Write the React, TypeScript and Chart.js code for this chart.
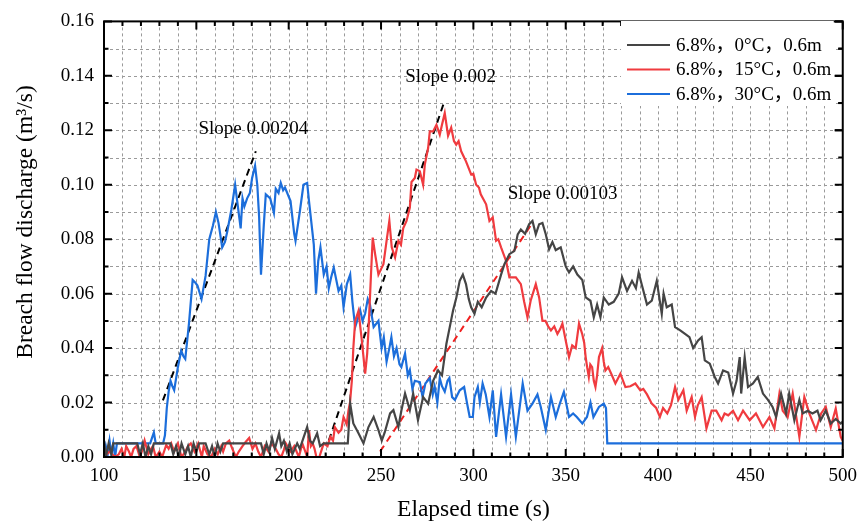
import React, { useEffect, useRef } from "react";
import { Chart, registerables } from "chart.js";

Chart.register(...registerables);

// ---------- data ----------
const seriesLabels = ["6.8%，0°C，0.6m", "6.8%，15°C，0.6m", "6.8%，30°C，0.6m"];

const xTickValues = [100, 150, 200, 250, 300, 350, 400, 450, 500];
const yTickValues = [0, 0.02, 0.04, 0.06, 0.08, 0.1, 0.12, 0.14, 0.16];

// 0 °C (dark gray)
const t0 = [100, 101, 102.5, 104, 105, 110, 118, 119.5, 121, 122.5, 124, 125.5, 127, 133, 136, 137.5, 139, 140.5, 142, 144, 145.5, 147, 148.5, 150, 151.5, 155, 157, 158.5, 160, 161.5, 163, 164.5, 170, 175, 180, 185, 186.5, 188, 189.5, 191, 192.5, 194.8, 196, 197.4, 199, 200.5, 202, 204.6, 206, 208, 210, 211.5, 213, 215.4, 217, 219, 232, 233.3, 235, 237.8, 240.5, 243.2, 246, 248.6, 250.4, 252, 254.9, 256.7, 259.4, 261, 263, 265.6, 267.4, 270, 272.8, 275.5, 278.2, 280.9, 283, 285.4, 287.2, 289, 290.8, 292.6, 294.3, 296, 297.5, 298.8, 300.6, 302.4, 304.5, 306.9, 309.6, 312, 315, 316.8, 319.5, 322.2, 324, 325.7, 328, 330.2, 332, 333.8, 335.6, 337.4, 339.2, 341, 342.8, 344.6, 347.3, 350, 351.8, 354, 356.3, 359, 360.8, 363.4, 365.2, 367, 368.8, 370.6, 373.3, 376, 378.7, 380.5, 383.2, 385.9, 388, 389.5, 391.3, 394, 396.6, 399.3, 402, 403, 404.7, 407.4, 409.2, 412, 414.6, 417, 419, 421.7, 423.6, 425.3, 428, 430.7, 432.5, 435.2, 438, 440.6, 442.5, 444.2, 445, 446.9, 448.7, 451.4, 454, 456.8, 459.5, 462, 463.9, 466.6, 469.3, 471, 473.8, 476.5, 478.3, 481, 483.6, 486.3, 488, 490.8, 493.5, 496.2, 498.9, 500];
const q0 = [0.006, 0, 0.005, 0.001, 0.005, 0.005, 0.005, 0.001, 0.005, 0, 0.004, 0.001, 0.005, 0.005, 0.005, 0.001, 0.004, 0, 0.005, 0.001, 0.004, 0, 0.005, 0.002, 0.005, 0.005, 0.001, 0.004, 0, 0.005, 0.002, 0.005, 0.005, 0.005, 0.005, 0.005, 0.001, 0.005, 0.002, 0.007, 0.003, 0.0087, 0.004, 0.006, 0.002, 0.005, 0.001, 0.005, 0.003, 0.007, 0.011, 0.006, 0.005, 0.0087, 0.004, 0.005, 0.005, 0.0196, 0.0123, 0.0087, 0.005, 0.011, 0.0147, 0.0099, 0.006, 0.009, 0.016, 0.0172, 0.011, 0.017, 0.0233, 0.0172, 0.0233, 0.0135, 0.022, 0.0196, 0.028, 0.0318, 0.03, 0.0416, 0.0477, 0.0538, 0.0586, 0.0647, 0.067, 0.0635, 0.058, 0.055, 0.0526, 0.057, 0.055, 0.0586, 0.061, 0.06, 0.067, 0.0708, 0.0745, 0.0757, 0.0818, 0.0836, 0.082, 0.0855, 0.0867, 0.0818, 0.0855, 0.086, 0.0818, 0.0763, 0.079, 0.076, 0.077, 0.07, 0.0678, 0.07, 0.067, 0.065, 0.0586, 0.0574, 0.0513, 0.056, 0.0513, 0.0586, 0.056, 0.057, 0.06, 0.066, 0.061, 0.0647, 0.062, 0.0678, 0.063, 0.056, 0.0574, 0.0647, 0.0526, 0.06, 0.055, 0.056, 0.0477, 0.0465, 0.0452, 0.044, 0.04, 0.0428, 0.044, 0.0355, 0.0343, 0.0294, 0.027, 0.0318, 0.031, 0.0233, 0.028, 0.0367, 0.0233, 0.0367, 0.0257, 0.027, 0.0294, 0.0233, 0.021, 0.0184, 0.0147, 0.0233, 0.016, 0.0233, 0.0135, 0.021, 0.016, 0.017, 0.016, 0.017, 0.0135, 0.017, 0.0123, 0.014, 0.0123, 0.013];

// 15 °C (red)
const t15 = [100, 103, 106, 108, 109.5, 111, 112, 113.5, 114.7, 116, 117.6, 119.4, 121, 122, 124, 125.5, 126.5, 128, 130, 131.5, 133.7, 135, 136.4, 138, 140, 142, 144, 145.5, 147, 149, 151, 153, 154, 156, 158, 160, 161.6, 163.5, 164.5, 166, 167.8, 169.5, 171.4, 173, 175, 176.8, 178.6, 180.4, 182, 183.5, 185, 187, 189, 190.6, 193, 194.5, 196, 197.4, 198.4, 201, 203, 205.5, 207.4, 209, 210, 211, 212, 213, 214, 215, 216.6, 218, 219, 221, 222.6, 224, 225, 227, 228.5, 229.7, 231.4, 232.4, 233.2, 234.2, 235, 236, 237.8, 239.6, 241.4, 242.5, 243.2, 244.5, 245.5, 246.8, 248.6, 250, 251.3, 253, 254.5, 255.8, 257.6, 259.4, 260.8, 262, 263.8, 265.6, 266.5, 268.3, 269.2, 271, 272.8, 273.7, 275.5, 276.4, 278.2, 280, 281.8, 283, 284.5, 286.3, 288, 289.5, 290.7, 292, 293.4, 295, 296, 297.5, 298.8, 300, 301.5, 303, 304, 306.9, 308.7, 310.5, 312.3, 313.5, 315, 317.7, 319.5, 321, 323, 325.7, 327.5, 329.3, 331, 333.8, 335.6, 337.4, 339, 340.5, 342, 343.8, 345.5, 347, 348.2, 350, 351.8, 353.5, 355.4, 357.2, 359, 360, 360.8, 361.6, 362.5, 363.3, 364.3, 365.2, 366.1, 367, 368, 369.7, 370.6, 371.5, 373, 375, 376.9, 379.6, 382.3, 385, 387.7, 390.4, 392, 394, 396.6, 399, 401, 402.7, 405, 407, 409.2, 411, 413.7, 415.5, 418.2, 420, 421.5, 423.6, 426.2, 429, 431.5, 434.4, 436, 438, 440.6, 443.3, 446, 449.6, 453, 456.8, 460.3, 463, 465.7, 467.5, 470.2, 472.9, 476.5, 479.2, 481.9, 485.5, 488.3, 490.8, 493.5, 496.2, 498.9, 500];
const q15 = [0, 0.002, 0, 0.001, 0.003, 0, 0.004, 0.002, 0, 0.003, 0.004, 0, 0.003, 0.006, 0.001, 0.003, 0.004, 0, 0.002, 0, 0.0044, 0.003, 0.005, 0.002, 0.005, 0, 0.002, 0.004, 0.005, 0.002, 0.005, 0, 0.004, 0.001, 0, 0.003, 0.001, 0.004, 0.002, 0.005, 0.006, 0.003, 0, 0.002, 0.004, 0.0056, 0.007, 0.003, 0.005, 0.002, 0, 0.004, 0.002, 0.005, 0.003, 0.001, 0, 0.0026, 0.005, 0.002, 0.004, 0, 0.005, 0.002, 0, 0.0099, 0.004, 0.005, 0.003, 0, 0, 0.003, 0.005, 0.004, 0.0074, 0.006, 0.011, 0.0089, 0.01, 0.0147, 0.012, 0.0172, 0.02, 0.028, 0.04, 0.05, 0.0537, 0.0428, 0.0306, 0.038, 0.0465, 0.066, 0.0806, 0.0745, 0.067, 0.069, 0.0708, 0.0794, 0.0867, 0.077, 0.0733, 0.0794, 0.078, 0.084, 0.0867, 0.0916, 0.101, 0.1025, 0.1056, 0.105, 0.1, 0.1074, 0.1135, 0.1196, 0.1196, 0.122, 0.1184, 0.122, 0.1263, 0.118, 0.121, 0.116, 0.1147, 0.116, 0.1123, 0.11, 0.1086, 0.106, 0.1038, 0.104, 0.1, 0.099, 0.0965, 0.0928, 0.0867, 0.088, 0.0794, 0.08, 0.077, 0.072, 0.066, 0.066, 0.066, 0.0635, 0.057, 0.0513, 0.0574, 0.0635, 0.0586, 0.05, 0.05, 0.048, 0.0465, 0.048, 0.0452, 0.047, 0.049, 0.0428, 0.0367, 0.041, 0.04, 0.049, 0.045, 0.042, 0.0367, 0.033, 0.0294, 0.034, 0.033, 0.028, 0.0257, 0.03, 0.0367, 0.04, 0.035, 0.0318, 0.033, 0.03, 0.027, 0.0306, 0.0257, 0.026, 0.027, 0.0245, 0.025, 0.023, 0.0196, 0.018, 0.0147, 0.018, 0.016, 0.019, 0.0257, 0.021, 0.0245, 0.017, 0.022, 0.0147, 0.019, 0.022, 0.0105, 0.017, 0.017, 0.0135, 0.016, 0.0153, 0.017, 0.0135, 0.017, 0.0135, 0.016, 0.011, 0.0147, 0.0105, 0.0233, 0.017, 0.0147, 0.0233, 0.0074, 0.022, 0.016, 0.0099, 0.016, 0.0184, 0.011, 0.0178, 0.0074, 0.006];

// 30 °C (blue)
const t30 = [100, 101, 102, 103, 104, 105, 106, 107, 110, 115, 120, 125, 126, 127, 128, 130, 132, 133, 134, 135, 136, 137, 138, 140, 141.8, 143, 144, 146, 148, 149.5, 150.6, 152.8, 155, 157, 159, 160.6, 162, 164, 165.5, 166.8, 169, 171, 172.5, 174, 175, 176, 177.5, 179, 180.2, 181.8, 183, 184, 185, 186.5, 187.6, 190, 192, 193, 194.5, 195.7, 197, 198, 201, 203, 203.7, 206, 208, 210, 211, 213.6, 214.8, 216, 217.2, 219, 220.5, 221.7, 223, 224.4, 227, 228.5, 229.7, 231.5, 233.3, 234.5, 236, 237.5, 238.7, 240, 241.4, 242.8, 244, 246, 248.6, 250.3, 251.5, 253, 254.5, 255.6, 257, 258.4, 260, 261, 263, 264.5, 265.6, 267, 268.3, 271, 272.5, 274, 276.4, 278, 279, 280.5, 281.8, 283, 284.5, 286, 287, 288.5, 290, 292.6, 295, 296.5, 298, 299.7, 300.6, 302.4, 303.5, 305, 306.7, 308.7, 310.5, 312.3, 315, 317.7, 320.4, 323, 326.7, 329.3, 332, 334.7, 336.5, 339.2, 342, 344.6, 347, 349, 351.8, 354, 356, 359, 361.5, 363.4, 365, 368, 370.6, 371.8, 372.5, 400, 450, 500];
const q30 = [0, 0.004, 0.001, 0.006, 0.001, 0.005, 0, 0.005, 0.005, 0.005, 0.005, 0.005, 0.007, 0.009, 0.005, 0.005, 0.005, 0.008, 0.018, 0.024, 0.028, 0.026, 0.0245, 0.033, 0.039, 0.037, 0.036, 0.049, 0.065, 0.064, 0.063, 0.058, 0.0665, 0.08, 0.085, 0.09, 0.086, 0.077, 0.079, 0.083, 0.091, 0.1, 0.092, 0.084, 0.095, 0.092, 0.095, 0.097, 0.1025, 0.107, 0.1, 0.088, 0.067, 0.085, 0.0965, 0.095, 0.0897, 0.0985, 0.097, 0.1007, 0.098, 0.099, 0.094, 0.082, 0.0794, 0.09, 0.1, 0.1007, 0.094, 0.078, 0.06, 0.072, 0.077, 0.067, 0.07, 0.062, 0.066, 0.0696, 0.061, 0.063, 0.055, 0.0635, 0.067, 0.057, 0.0477, 0.051, 0.054, 0.05, 0.0527, 0.058, 0.056, 0.0477, 0.05, 0.04, 0.044, 0.035, 0.04, 0.044, 0.037, 0.04, 0.034, 0.033, 0.038, 0.03, 0.032, 0.025, 0.028, 0.0275, 0.022, 0.027, 0.029, 0.023, 0.026, 0.02, 0.029, 0.026, 0.024, 0.028, 0.029, 0.022, 0.021, 0.0245, 0.0257, 0.02, 0.0147, 0.0147, 0.022, 0.0257, 0.02, 0.027, 0.023, 0.0147, 0.0245, 0.0074, 0.023, 0.0074, 0.023, 0.0074, 0.027, 0.017, 0.0196, 0.023, 0.0184, 0.0099, 0.022, 0.0147, 0.02, 0.0239, 0.0147, 0.016, 0.0147, 0.0123, 0.0147, 0.02, 0.0147, 0.0184, 0.0196, 0.018, 0.005, 0.005, 0.005, 0.005];

// fitted slope lines (time, discharge)
const fit30T = [131.9, 182.2];
const fit30Q = [0.0208, 0.1123];
const fit15T = [221.7, 284.5];
const fit15Q = [0.006, 0.131];
const fit0T = [249.5, 332];
const fit0Q = [0.002, 0.086];

// slope annotation texts and their anchor (time, discharge)
const slopeTexts = ["Slope 0.00204", "Slope 0.002", "Slope 0.00103"];
const slopeTextT = [151.1, 263.1, 318.6];
const slopeTextQ = [0.1203, 0.1395, 0.0966];

// ---------- styles ----------
const COLORS = ["#454545", "#f03b3f", "#1c6edb"];
const FONT = "'Liberation Serif', 'Noto Sans CJK SC', serif";

const toXY = (t: number[], q: number[]) => t.map((v, i) => ({ x: v, y: q[i] }));

const decorPlugin = {
  id: "decor",
  beforeDatasetsDraw(chart: any) {
    const { ctx, chartArea: a, scales } = chart;
    const x = scales.x;
    const y = scales.y;
    ctx.save();
    ctx.strokeStyle = "#9a9a9a";
    ctx.lineWidth = 1;
    ctx.setLineDash([3, 3]);
    for (let k = 1; k < 40; k++) {
      const px = Math.round(x.getPixelForValue(100 + k * 10)) + 0.5;
      ctx.beginPath();
      ctx.moveTo(px, a.top);
      ctx.lineTo(px, a.bottom);
      ctx.stroke();
    }
    for (let k = 1; k < 16; k++) {
      const py = Math.round(y.getPixelForValue(k * 0.01)) + 0.5;
      ctx.beginPath();
      ctx.moveTo(a.left, py);
      ctx.lineTo(a.right, py);
      ctx.stroke();
    }
    ctx.restore();
  },
  afterDatasetsDraw(chart: any) {
    const { ctx, chartArea: a, scales } = chart;
    const x = scales.x;
    const y = scales.y;
    ctx.save();
    ctx.setLineDash([]);
    ctx.strokeStyle = "#000";
    ctx.lineWidth = 2;
    // ticks (inward) on all sides
    for (let k = 0; k <= 40; k++) {
      const px = x.getPixelForValue(100 + k * 10);
      const len = k % 5 === 0 ? 8 : 4.5;
      ctx.beginPath();
      ctx.moveTo(px, a.bottom);
      ctx.lineTo(px, a.bottom - len);
      ctx.moveTo(px, a.top);
      ctx.lineTo(px, a.top + len);
      ctx.stroke();
    }
    for (let k = 0; k <= 16; k++) {
      const py = y.getPixelForValue(k * 0.01);
      const len = k % 2 === 0 ? 8 : 4.5;
      ctx.beginPath();
      ctx.moveTo(a.left, py);
      ctx.lineTo(a.left + len, py);
      ctx.moveTo(a.right, py);
      ctx.lineTo(a.right - len, py);
      ctx.stroke();
    }
    ctx.strokeRect(a.left, a.top, a.right - a.left, a.bottom - a.top);

    // slope annotations
    ctx.fillStyle = "#000";
    ctx.font = `19px ${FONT}`;
    ctx.textAlign = "left";
    ctx.textBaseline = "middle";
    slopeTexts.forEach((s, i) => {
      ctx.fillText(s, x.getPixelForValue(slopeTextT[i]), y.getPixelForValue(slopeTextQ[i]));
    });

    // legend
    const lx = 621;
    const ly = 21;
    ctx.fillStyle = "#fff";
    ctx.fillRect(lx, ly, a.right - lx - 9, 85);
    seriesLabels.forEach((lab, i) => {
      const yy = 45 + i * 24.5;
      ctx.strokeStyle = COLORS[i];
      ctx.lineWidth = 2.2;
      ctx.beginPath();
      ctx.moveTo(627, yy);
      ctx.lineTo(670, yy);
      ctx.stroke();
      ctx.fillStyle = "#000";
      ctx.font = `19px ${FONT}`;
      ctx.textAlign = "left";
      ctx.textBaseline = "middle";
      ctx.fillText(lab, 676, yy + 1);
    });
    // redraw right ticks over legend box
    ctx.strokeStyle = "#000";
    ctx.lineWidth = 2;
    for (let k = 12; k <= 16; k++) {
      const py = y.getPixelForValue(k * 0.01);
      const len = k % 2 === 0 ? 8 : 4.5;
      ctx.beginPath();
      ctx.moveTo(a.right, py);
      ctx.lineTo(a.right - len, py);
      ctx.stroke();
    }

    // axis titles
    ctx.fillStyle = "#000";
    ctx.font = `23.5px ${FONT}`;
    ctx.textAlign = "center";
    ctx.textBaseline = "middle";
    ctx.fillText("Elapsed time (s)", (a.left + a.right) / 2, 510);
    ctx.save();
    ctx.translate(26, 222);
    ctx.rotate(-Math.PI / 2);
    ctx.fillText("Breach flow discharge (m³/s)", 0, 0);
    ctx.restore();
    ctx.restore();
  },
};

export default function App() {
  const ref = useRef<HTMLCanvasElement | null>(null);

  useEffect(() => {
    if (!ref.current) return;
    const lineDs = (label: string, t: number[], q: number[], color: string, dash: number[] = [], w = 2.2) => ({
      label,
      data: toXY(t, q),
      borderColor: color,
      backgroundColor: color,
      borderWidth: w,
      borderDash: dash,
      pointRadius: 0,
      tension: 0,
      fill: false,
    });
    const chart = new Chart(ref.current, {
      type: "line",
      data: {
        datasets: [
          lineDs(seriesLabels[0], t0, q0, COLORS[0]),
          lineDs(seriesLabels[1], t15, q15, COLORS[1]),
          lineDs(seriesLabels[2], t30, q30, COLORS[2]),
          lineDs("fit30", fit30T, fit30Q, "#000", [7, 5], 2),
          lineDs("fit15", fit15T, fit15Q, "#000", [7, 5], 2),
          lineDs("fit0", fit0T, fit0Q, "#f02020", [7, 5], 2),
        ],
      },
      options: {
        responsive: false,
        animation: false,
        events: [],
        layout: { padding: { left: 0, right: 18, top: 19, bottom: 0 } },
        plugins: { legend: { display: false }, tooltip: { enabled: false }, title: { display: false } },
        scales: {
          x: {
            type: "linear",
            min: 100,
            max: 500,
            afterBuildTicks: (s: any) => {
              s.ticks = xTickValues.map((v) => ({ value: v }));
            },
            afterFit: (s: any) => {
              s.height = 66;
            },
            grid: { display: false, drawTicks: false },
            border: { display: false },
            ticks: {
              padding: 8,
              color: "#000",
              font: { family: FONT, size: 19 },
              maxRotation: 0,
              autoSkip: false,
              callback: (v: any) => String(v),
            },
          },
          y: {
            type: "linear",
            min: 0,
            max: 0.16,
            afterBuildTicks: (s: any) => {
              s.ticks = yTickValues.map((v) => ({ value: v }));
            },
            afterFit: (s: any) => {
              s.width = 104;
            },
            grid: { display: false, drawTicks: false },
            border: { display: false },
            ticks: {
              padding: 10,
              color: "#000",
              font: { family: FONT, size: 19 },
              autoSkip: false,
              callback: (v: any) => Number(v).toFixed(2),
            },
          },
        },
      },
      plugins: [decorPlugin],
    } as any);
    return () => chart.destroy();
  }, []);

  return (
    <div style={{ position: "fixed", left: 0, top: 0, width: 865, height: 523, background: "#fff" }}>
      <canvas ref={ref} width={865} height={523} style={{ display: "block" }} />
    </div>
  );
}
